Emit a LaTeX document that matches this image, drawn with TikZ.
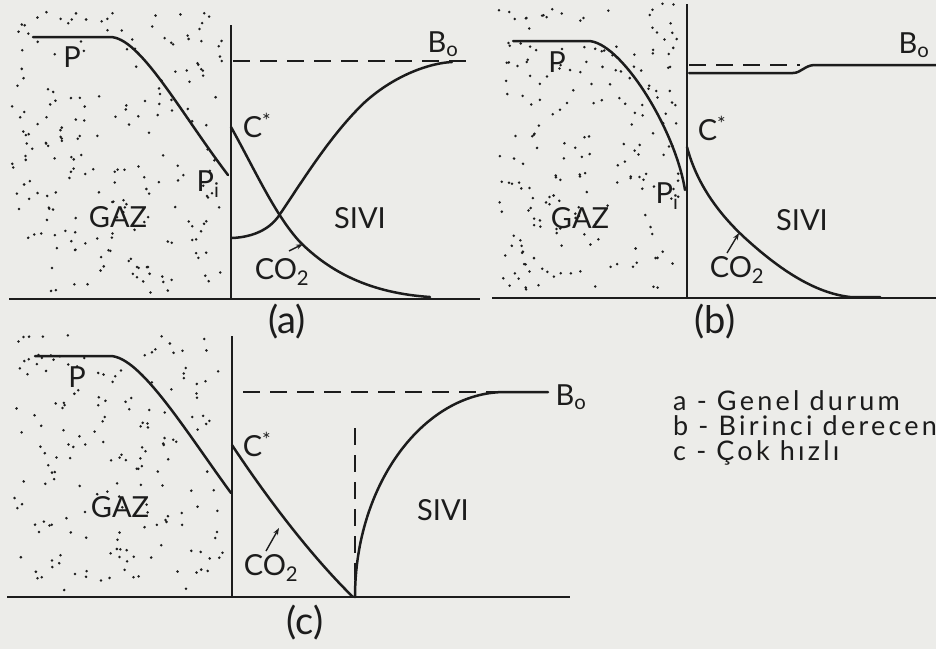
\documentclass[tikz,border=0pt]{standalone}
\usepackage{fontspec}
\setmainfont{Lato}
\newfontfamily\legfont[LetterSpace=12]{Lato}
\usetikzlibrary{arrows.meta}
\definecolor{ink}{RGB}{28,28,28}
\definecolor{paper}{RGB}{236,236,233}
\begin{document}
\begin{tikzpicture}[x=1pt,y=-1pt,
  curve/.style={line width=2.5pt, draw=ink, line cap=round, line join=round},
  axisln/.style={line width=2.1pt, draw=ink},
  dashln/.style={line width=1.8pt, draw=ink, dash pattern=on 17pt off 10pt},
  lbl/.style={font=\fontsize{29}{31}\selectfont, text=ink, inner sep=0pt},
  captxt/.style={font=\fontsize{38}{40}\selectfont, text=ink, inner sep=0pt},
  leg/.style={font=\legfont\fontsize{27}{25}\selectfont, text=ink, inner sep=0pt, anchor=north west, align=left},
  co2arrow/.style={line width=1.4pt, draw=ink, -{Stealth[length=7pt,width=5pt]}},
  dot/.style={fill=ink}
]
\useasboundingbox (0,0) rectangle (936,649);
\fill[paper] (0,0) rectangle (936,649);

% ---------- stipple (gas regions) ----------
\pgfmathsetseed{4242}
\foreach \i in {1,...,215}{
  \pgfmathsetmacro{\px}{12+210*rnd}
  \pgfmathsetmacro{\py}{12+282*rnd}
  \fill[dot] (\px,\py) circle (1.4pt);
}
\foreach \i in {1,...,210}{
  \pgfmathsetmacro{\px}{497+182*rnd}
  \pgfmathsetmacro{\py}{2+290*rnd}
  \fill[dot] (\px,\py) circle (1.4pt);
}
\foreach \i in {1,...,180}{
  \pgfmathsetmacro{\px}{14+210*rnd}
  \pgfmathsetmacro{\py}{335+257*rnd}
  \fill[dot] (\px,\py) circle (1.4pt);
}

% ================= panel (a) =================
\coordinate (aB0) at (9,299);
\coordinate (aB1) at (480,299);
\coordinate (aV0) at (231,25);
\coordinate (aV1) at (231,299);
\draw[axisln] (aB0) -- (aB1);
\draw[axisln] (aV0) -- (aV1);
\coordinate (aD0) at (233,61);
\coordinate (aD1) at (470,61);
\draw[dashln] (aD0) -- (aD1);
% P curve
\coordinate (aP0) at (33,37);
\coordinate (aP1) at (110,37);
\coordinate (aPi) at (228,175);
\draw[curve] (aP0) -- (aP1) .. controls (140,37) and (180,112) .. (aPi);
% C* curve
\coordinate (aC0) at (231,127);
\coordinate (aC1) at (430,297);
\draw[curve] (aC0) .. controls (255,170) and (275,215) .. (300,242)
  .. controls (330,272) and (370,293) .. (aC1);
% B curve
\coordinate (aBc0) at (232,238);
\coordinate (aBc1) at (452,62);
\draw[curve] (aBc0) .. controls (255,237) and (270,228) .. (278,217)
  .. controls (300,185) and (330,135) .. (365,102)
  .. controls (395,75) and (430,63) .. (aBc1);
\node[lbl] (aPl) at (72,57) {P};
\node[lbl] (aPil) at (208,184) {P\textsubscript{i}};
\node[lbl] (aCl) at (257,125) {C\textsuperscript{*}};
\node[lbl] (aGaz) at (118,217) {GAZ};
\node[lbl] (aSivi) at (360,218) {SIVI};
\node[lbl] (aCO) at (282,272) {CO\textsubscript{2}};
\node[lbl] (aBo) at (443,44) {B\textsubscript{o}};
\coordinate (aArr0) at (289,251);
\coordinate (aArr) at (303,244);
\draw[co2arrow] (aArr0) -- (aArr);
\node[captxt] (aCap) at (287,322) {(a)};

% ================= panel (b) =================
\coordinate (bB0) at (492,298);
\coordinate (bB1) at (936,298);
\coordinate (bV0) at (687,4);
\coordinate (bV1) at (687,298);
\draw[axisln] (bB0) -- (bB1);
\draw[axisln] (bV0) -- (bV1);
\coordinate (bD0) at (689,65);
\coordinate (bD1) at (800,65);
\draw[dashln] (bD0) -- (bD1);
\coordinate (bS0) at (689,73);
\coordinate (bS1) at (936,65);
\draw[curve] (bS0) -- (793,73) .. controls (801,73) and (805,65) .. (815,65) -- (bS1);
% P curve
\coordinate (bP0) at (513,41);
\coordinate (bP1) at (588,41);
\coordinate (bPi) at (685,190);
\draw[curve] (bP0) -- (bP1) .. controls (620,41) and (675,128) .. (bPi);
% C* curve
\coordinate (bC0) at (687,147);
\coordinate (bC1) at (880,297);
\draw[curve] (bC0) .. controls (697,185) and (720,215) .. (745,238)
  .. controls (780,270) and (815,293) .. (850,297) -- (bC1);
\node[lbl] (bPl) at (557,62) {P};
\node[lbl] (bPil) at (667,196) {P\textsubscript{i}};
\node[lbl] (bCl) at (712,128) {C\textsuperscript{*}};
\node[lbl] (bGaz) at (580,218) {GAZ};
\node[lbl] (bSivi) at (802,220) {SIVI};
\node[lbl] (bCO) at (737,270) {CO\textsubscript{2}};
\node[lbl] (bBo) at (914,45) {B\textsubscript{o}};
\coordinate (bArr0) at (727,253);
\coordinate (bArr) at (739,233);
\draw[co2arrow] (bArr0) -- (bArr);
\node[captxt] (bCap) at (715,322) {(b)};

% ================= panel (c) =================
\coordinate (cB0) at (7,597);
\coordinate (cB1) at (570,597);
\coordinate (cV0) at (232,336);
\coordinate (cV1) at (232,597);
\draw[axisln] (cB0) -- (cB1);
\draw[axisln] (cV0) -- (cV1);
\coordinate (cD0) at (243,392);
\coordinate (cD1) at (520,392);
\draw[dashln] (cD0) -- (cD1);
\coordinate (cVd0) at (355,428);
\coordinate (cVd1) at (355,597);
\draw[dashln] (cVd0) -- (cVd1);
% P curve
\coordinate (cP0) at (35,356);
\coordinate (cP1) at (110,356);
\coordinate (cPi) at (231,493);
\draw[curve] (cP0) -- (cP1) .. controls (140,356) and (185,430) .. (cPi);
% C* curve
\coordinate (cC0) at (232,445);
\coordinate (cC1) at (353,597);
\draw[curve] (cC0) .. controls (265,495) and (310,555) .. (cC1);
% B curve
\coordinate (cBc0) at (355,597);
\coordinate (cBc1) at (548,392);
\draw[curve] (cBc0) .. controls (355,484) and (424,392) .. (505,392) -- (cBc1);
\node[lbl] (cPl) at (77,377) {P};
\node[lbl] (cCl) at (257,444) {C\textsuperscript{*}};
\node[lbl] (cGaz) at (120,507) {GAZ};
\node[lbl] (cSivi) at (443,510) {SIVI};
\node[lbl] (cCO) at (271,568) {CO\textsubscript{2}};
\node[lbl] (cBo) at (571,397) {B\textsubscript{o}};
\coordinate (cArr0) at (266,551);
\coordinate (cArr) at (279,528);
\draw[co2arrow] (cArr0) -- (cArr);
\node[captxt] (cCap) at (305,623) {(c)};

% ================= legend =================
\node[leg] (legend) at (673,390) {a - Genel durum\\ b - Birinci derecen\\ c - Çok hızlı};
\end{tikzpicture}
\end{document}
